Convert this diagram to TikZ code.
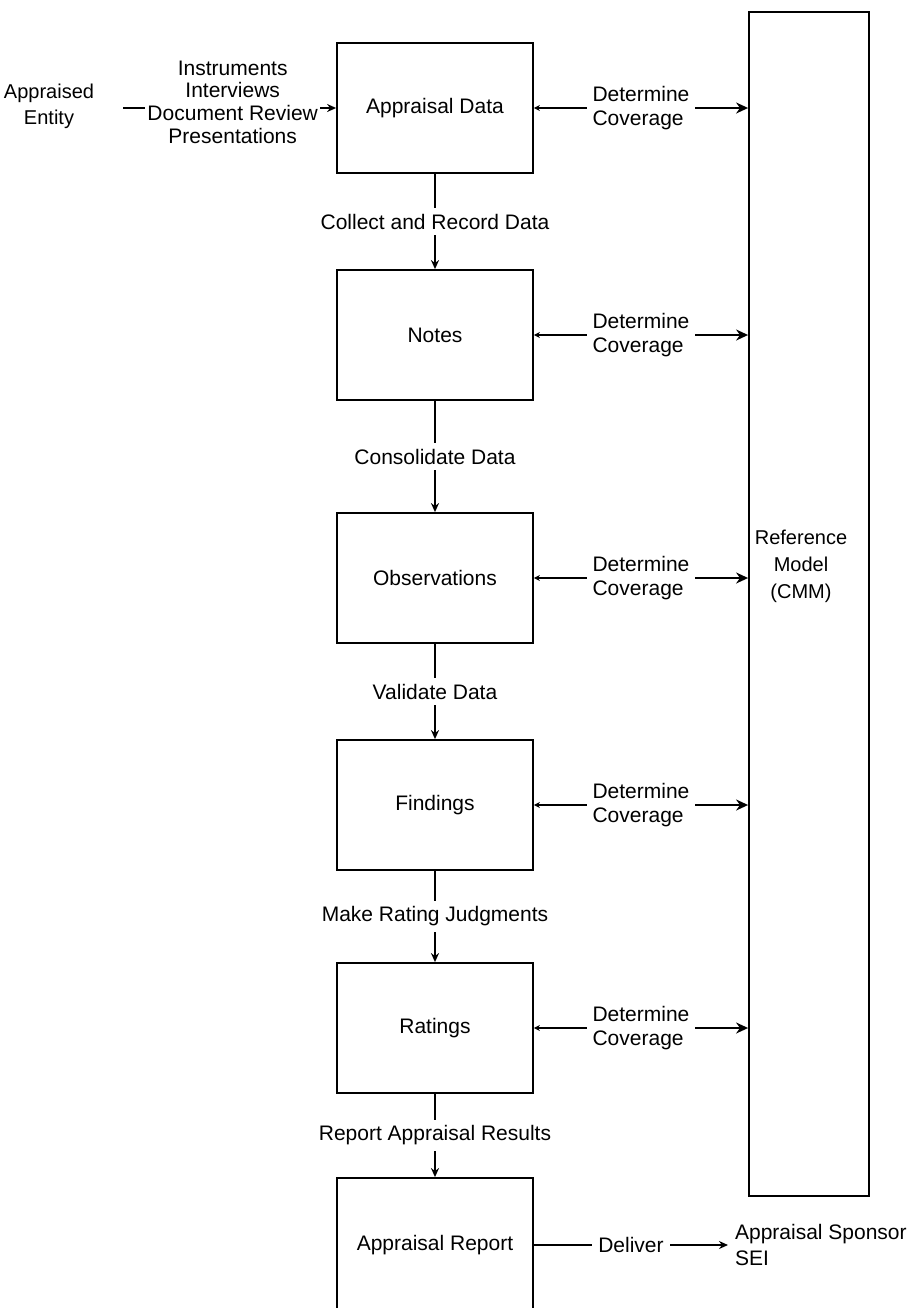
\documentclass[tikz,border=0pt]{standalone}
\usepackage{fontspec}
\setmainfont{Liberation Sans}
\usetikzlibrary{arrows.meta,positioning}
\tikzset{
  >={Stealth[length=4.5pt,width=4pt]},
  blk/.style={rectangle,draw,line width=0.9pt,minimum width=98pt,minimum height=65pt,inner sep=0pt},
  refbox/.style={rectangle,draw,line width=0.9pt,minimum width=60pt,minimum height=592pt},
  tr/.style={->, line width=0.9pt},
  cov/.style={{Stealth[length=3pt,width=3pt]}-{Stealth[length=6pt,width=5.5pt]}, line width=0.9pt},
  lbl/.style={fill=white, inner sep=3pt, align=center}
}

\begin{document}
\begin{tikzpicture}[x=0.5pt, y=-0.5pt, font=\fontsize{10.5}{12}\selectfont]
    \useasboundingbox (0,0) rectangle (912,1308);

    % Main column of data stages
    \node[blk] (app) at (435,108) {Appraisal Data};
    \node[blk] (notes) at (435,335) {Notes};
    \node[blk] (obs) at (435,578) {Observations};
    \node[blk] (find) at (435,805) {Findings};
    \node[blk] (rate) at (435,1028) {Ratings};
    \node[blk, minimum height=67pt] (rpt) at (435,1245) {Appraisal Report};

    % Reference model on the right
    \node[refbox] (refm) at (809,604) {};
    \node[align=center, font=\fontsize{10}{13.5}\selectfont] (reflbl) at (801,566) {Reference\\Model\\(CMM)};

    % Input and output
    \node[align=center, font=\fontsize{10}{13}\selectfont] (ent) at (49,106) {Appraised\\Entity};
    \node[anchor=west, align=left, font=\fontsize{10.5}{13}\selectfont] (spon) at (728,1245) {Appraisal Sponsor\\SEI};

    \draw[tr, shorten <=11pt] (ent.east |- app.west) -- node[lbl, pos=0.56, yshift=3pt, inner xsep=1pt, font=\fontsize{10.5}{11.3}\selectfont] {Instruments\\Interviews\\Document Review\\Presentations} (app.west);
    \draw[tr] (rpt) -- node[lbl] {Deliver} (spon.west);

    % Steps between stages
    \draw[tr] (app) -- node[lbl] {Collect and Record Data} (notes);
    \draw[tr] (notes) -- node[lbl] {Consolidate Data} (obs);
    \draw[tr] (obs) -- node[lbl] {Validate Data} (find);
    \draw[tr] (find) -- node[lbl] {Make Rating Judgments} (rate);
    \draw[tr] (rate) -- node[lbl] {Report Appraisal Results} (rpt);

    % Coverage against the reference model
    \draw[cov] (app.east) -- node[lbl, align=left] {Determine\\Coverage} (app.east -| refm.west);
    \draw[cov] (notes.east) -- node[lbl, align=left] {Determine\\Coverage} (notes.east -| refm.west);
    \draw[cov] (obs.east) -- node[lbl, align=left] {Determine\\Coverage} (obs.east -| refm.west);
    \draw[cov] (find.east) -- node[lbl, align=left] {Determine\\Coverage} (find.east -| refm.west);
    \draw[cov] (rate.east) -- node[lbl, align=left] {Determine\\Coverage} (rate.east -| refm.west);
\end{tikzpicture}
\end{document}
